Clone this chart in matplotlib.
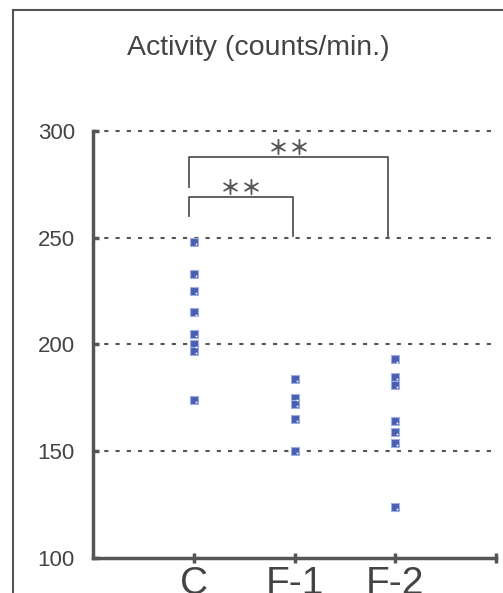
import matplotlib as mpl
import matplotlib.pyplot as plt
import matplotlib.transforms as mtransforms
import numpy as np
mpl.use('Agg')

groups = ['C', 'F-1', 'F-2']
c_vals = [248, 233, 225, 215, 205, 200, 197, 174]
f1_vals = [184, 175, 172, 165, 150]
f2_vals = [193, 185, 181, 164, 159, 154, 124]
yticks = [100, 150, 200, 250, 300]

# significance brackets: (x_left, x_right, y_top, y_left_end, y_right_end)
brackets = [(0.95, 1.99, 269, 260, 251), (0.95, 2.93, 288, 274, 251)]

gray = '#555555'
plt.rcParams['font.family'] = ['Liberation Sans', 'DejaVu Sans']

fig = plt.figure(figsize=(5.03, 5.93), dpi=100)
ax = fig.add_axes([93/503, 35/593, 403/503, 427/593])

# outer frame of the scanned figure
fig.add_artist(plt.Line2D([13/503, 13/503], [0, 1-10/593], color=gray, lw=1.5))
fig.add_artist(plt.Line2D([13/503, 1], [1-10/593, 1-10/593], color=gray, lw=1.5))

for y in yticks[1:]:
    ax.plot([0, 4], [y, y], color=gray, lw=1.5, ls=(0, (2.0, 3.4)), zorder=1, clip_on=False)

dot = mtransforms.offset_copy(ax.transData, fig=fig, x=1.5, y=-1.5, units='points')
for i, vals in enumerate([c_vals, f1_vals, f2_vals]):
    xs = np.full(len(vals), i + 1)
    ax.plot(xs, vals, 's', ms=6.4, mfc='#4a5fb3', mec='#9fb0e0', mew=0.8, zorder=3, clip_on=False)
    ax.plot(xs, vals, 's', ms=1.2, mfc='white', mec='none', transform=dot, zorder=4, clip_on=False)

for xl, xr, yt, yl, yr in brackets:
    ax.plot([xl, xl, xr, xr], [yl, yt, yt, yr], color=gray, lw=1.3, clip_on=False, zorder=2)
    for dx in (-7.5, 7.5):
        tr = mtransforms.offset_copy(ax.transData, fig=fig, x=dx, y=6, units='points')
        ax.text((xl + xr) / 2, yt, '＊', ha='center', va='center', fontsize=15,
                fontweight='bold', color=gray, transform=tr,
                family=['Noto Sans CJK JP', 'DejaVu Sans'])

ax.set_xlim(0, 4)
ax.set_ylim(100, 300)
ax.set_xticks([1, 2, 3, 4])
ax.set_xticklabels(groups + [''], fontsize=28, color='#444444')
ax.set_yticks(yticks)
ax.set_yticklabels([str(v) for v in yticks], fontsize=16, color='#444444')
ax.tick_params(axis='x', direction='inout', length=7, width=2.5, color=gray, pad=2)
ax.tick_params(axis='y', direction='in', length=4, width=2.5, color=gray, pad=13)
for s in ['top', 'right']:
    ax.spines[s].set_visible(False)
for s in ['left', 'bottom']:
    ax.spines[s].set_linewidth(2.5)
    ax.spines[s].set_color(gray)
ax.patch.set_alpha(0)

fig.text(258/503, 1 - 48/593, 'Activity (counts/min.)', ha='center', va='center',
         fontsize=20.5, color='#444444')

plt.savefig('out.png')
